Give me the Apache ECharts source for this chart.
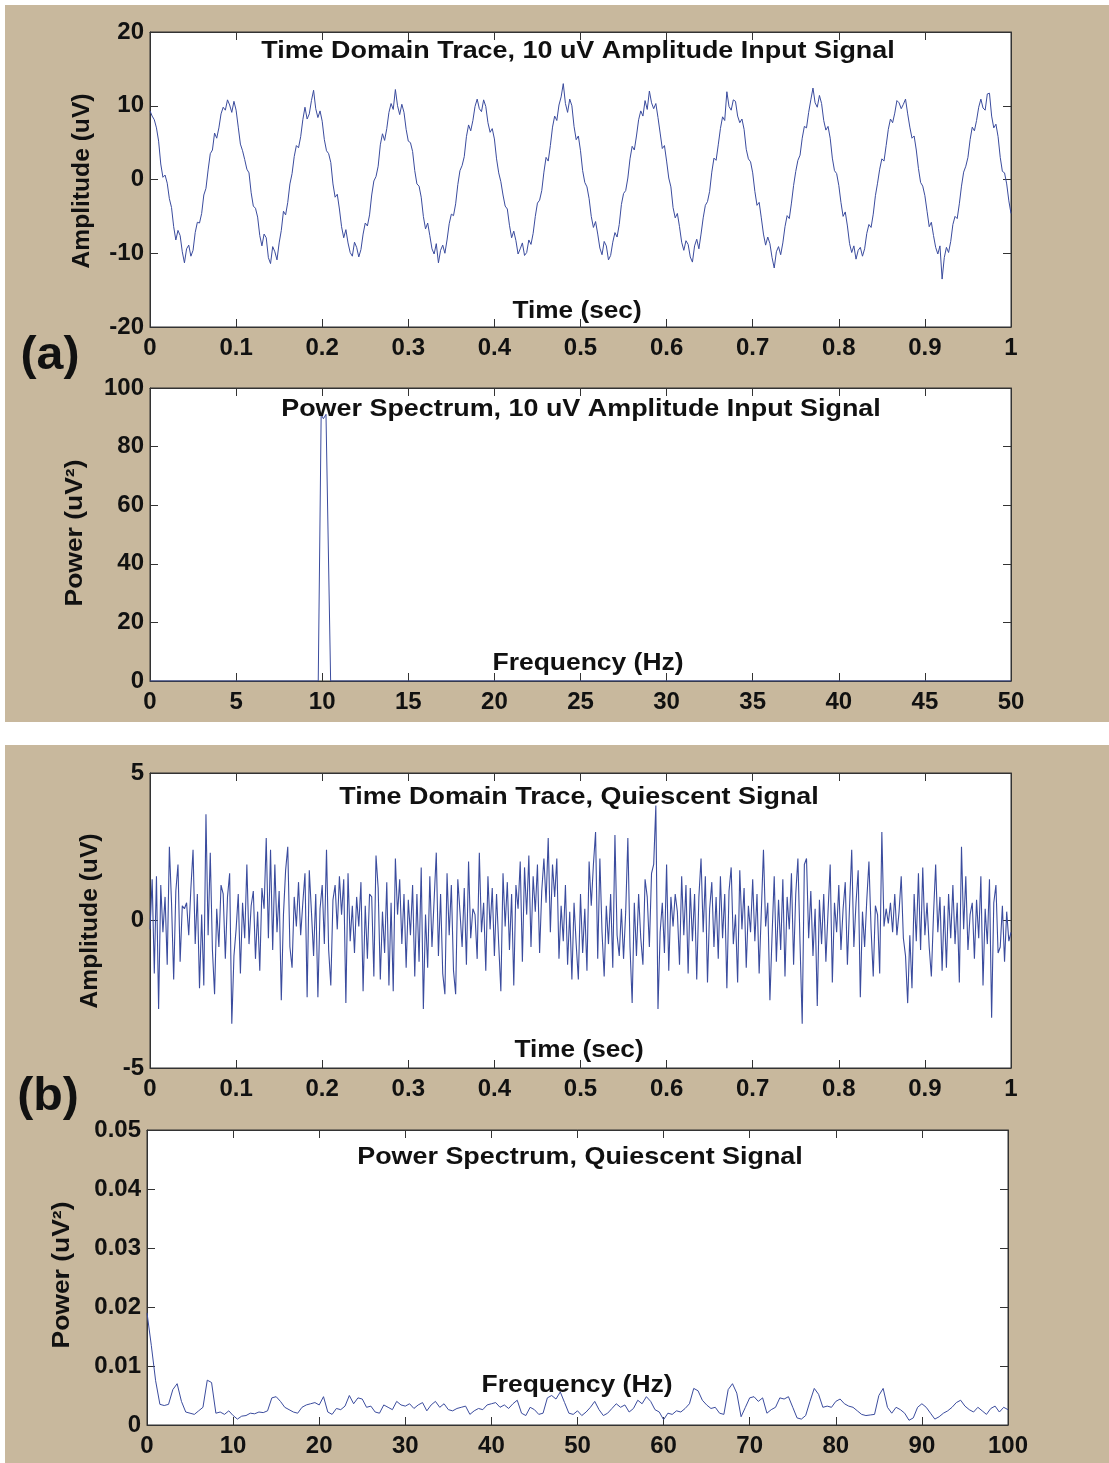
<!DOCTYPE html>
<html><head><meta charset="utf-8">
<script src="https://cdn.jsdelivr.net/npm/echarts@6/dist/echarts.min.js"></script>
<style>
html,body{margin:0;padding:0;background:#fff;}
#wrap{position:relative;width:1109px;height:1463px;overflow:hidden;}
.band{position:absolute;background:#c8b89d;}
#chart{position:absolute;left:0;top:0;width:1109px;height:1463px;}
</style></head><body>
<div id="wrap">
<div class="band" style="left:5px;top:5px;width:1104px;height:717px"></div>
<div class="band" style="left:5px;top:745px;width:1104px;height:718px"></div>
<div id="chart"></div>
</div>
<script>
// ---------- DATA ----------
// (a) time domain trace, 10 uV input, sampled every 0.0025 s from 0 to 1 s
const dtTraceA = 0.0025;
const traceA = [
 9.3, 8.6, 8.1, 7.0, 5.2, 2.1, 0.3, 0.6, -0.5, -2.6, -3.8, -6.4, -8.2, -6.9, -7.6, -9.8, -11.3, -9.4, -8.9, -10.4,
 -9.6, -7.2, -5.8, -5.9, -4.6, -2.1, -1.2, 1.3, 3.5, 4.0, 6.3, 5.6, 7.0, 8.9, 9.8, 9.4, 10.8, 10.1, 9.1, 10.6,
 9.4, 7.1, 4.8, 3.9, 2.7, 1.4, 0.9, -1.8, -3.6, -3.9, -5.1, -7.6, -9.0, -7.4, -7.9, -10.6, -11.4, -9.1, -9.8, -10.9,
 -8.6, -6.9, -4.3, -4.8, -3.1, -0.6, 0.8, 3.1, 4.6, 4.3, 5.8, 8.1, 9.8, 8.2, 8.9, 10.7, 12.1, 9.6, 8.4, 9.3,
 7.9, 5.4, 3.9, 3.5, 2.3, -0.6, -2.4, -2.0, -4.0, -6.4, -7.9, -6.8, -8.6, -9.9, -10.4, -8.5, -9.2, -10.5, -9.5, -7.4,
 -5.9, -6.3, -4.8, -2.1, -0.2, 0.4, 1.8, 4.7, 6.2, 5.3, 6.9, 9.1, 10.3, 9.5, 12.2, 10.0, 8.8, 10.2, 9.1, 6.8,
 5.2, 5.0, 3.8, 1.2, -0.6, -0.9, -2.4, -5.0, -6.7, -5.9, -7.6, -9.4, -10.1, -8.7, -11.3, -9.6, -8.9, -10.0, -8.2, -6.0,
 -4.7, -4.9, -3.3, -0.7, 1.2, 1.9, 3.1, 5.8, 7.4, 6.6, 8.0, 9.9, 10.9, 9.6, 9.2, 10.8, 9.9, 7.7, 6.4, 6.9,
 5.5, 2.8, 0.9, -0.3, -2.1, -3.6, -4.0, -6.2, -7.9, -7.0, -8.3, -10.1, -9.4, -8.6, -10.3, -9.9, -8.2, -8.8, -7.3, -5.0,
 -3.2, -2.8, -1.5, 1.0, 3.0, 2.5, 4.6, 7.1, 8.6, 8.0, 10.1, 11.2, 13.0, 10.3, 9.1, 10.9, 10.0, 7.2, 5.4, 5.9,
 3.9, 1.2, -0.4, -1.0, -2.6, -5.0, -6.5, -5.7, -7.4, -9.3, -10.2, -8.4, -9.0, -10.9, -10.3, -8.5, -7.2, -7.8, -6.1, -3.4,
 -1.9, -1.5, 0.2, 2.8, 4.5, 4.0, 5.9, 8.1, 9.3, 8.6, 10.7, 9.5, 12.0, 10.4, 9.6, 10.3, 8.4, 6.3, 4.2, 4.6,
 2.5, 0.2, -1.0, -3.8, -5.2, -4.6, -6.4, -8.5, -9.6, -8.3, -8.8, -10.5, -11.2, -9.0, -8.1, -9.4, -7.4, -5.2, -3.5, -3.0,
 -1.6, 1.0, 2.9, 2.6, 4.7, 6.9, 8.5, 8.0, 11.9, 9.9, 9.4, 10.8, 10.6, 8.6, 7.7, 8.2, 6.8, 4.1, 2.8, 2.4,
 0.9, -1.6, -3.5, -3.1, -5.2, -7.4, -8.9, -7.8, -8.7, -10.6, -12.0, -9.8, -9.1, -10.2, -8.6, -6.4, -4.9, -5.3, -3.2, -0.8,
 1.1, 2.6, 3.3, 5.6, 7.2, 7.0, 9.1, 10.8, 12.4, 10.4, 9.8, 11.4, 10.3, 8.0, 6.7, 7.2, 5.6, 2.9, 1.2, 0.8,
 -0.8, -3.1, -5.0, -4.4, -6.3, -8.7, -9.9, -9.0, -10.8, -9.6, -9.2, -10.4, -9.4, -7.3, -6.1, -6.5, -4.7, -2.2, -0.5, 1.4,
 2.8, 2.5, 4.6, 6.8, 8.2, 7.7, 9.0, 10.7, 10.4, 9.6, 10.2, 10.9, 8.9, 7.1, 5.6, 5.9, 4.0, 1.5, -0.4, -0.9,
 -2.2, -4.3, -6.4, -5.8, -7.6, -9.2, -10.1, -9.0, -13.5, -10.6, -9.2, -9.9, -8.4, -6.1, -5.0, -5.3, -3.3, -0.9, 1.0, 1.8,
 3.0, 5.4, 7.1, 6.6, 8.0, 9.8, 10.9, 9.7, 9.4, 11.6, 11.7, 8.6, 7.0, 7.5, 5.8, 3.0, 1.1, 0.9, -0.6, -2.9,
 -4.6
];
// (a) power spectrum, 10 uV input
const specAFreq = [0, 9.77, 9.94, 10.07, 10.22, 10.49, 50];
const specAPow  = [0, 0, 91, 89.5, 91, 0, 0];
// (b) time domain trace, quiescent, sampled every 0.0025 s from 0 to 1 s
const dtTraceB = 0.0025;
const traceB = [
 -0.3, 1.4, -1.8, 1.5, -3.0, 1.2, -0.4, 0.8, -1.5, 2.5, 0.6, -2.0, 1.0, 1.9, -1.4, 0.5, 0.4, 0.6, -0.5, 1.1,
 2.4, -0.8, 0.9, -2.3, 0.2, -2.2, 3.6, -0.5, 2.3, -1.0, -2.5, 0.4, -0.9, 1.2, 0.9, -1.3, 0.8, 1.6, -3.5, -1.2,
 -0.3, 0.9, -1.8, 0.6, -0.6, 1.9, -0.8, 0.5, 1.0, -1.3, 0.3, -1.7, 1.1, 0.4, 2.8, -0.6, 2.4, -1.0, 1.9, -0.4,
 1.0, -2.7, 0.2, 1.7, 2.5, -0.9, -1.6, 0.8, -0.2, 1.3, -0.5, 0.6, 1.6, -2.6, 1.7, 0.3, -1.2, 0.9, -2.6, 0.4,
 1.2, -0.8, 2.4, -1.0, -2.2, 0.7, 1.2, -0.3, 1.5, 0.2, 1.4, -2.8, 1.6, -0.7, 0.5, -1.1, 0.8, -0.2, 1.3, -2.4,
 0.5, -1.3, 0.9, 0.8, -1.9, 2.2, 1.1, -2.0, 0.3, -1.1, 1.3, -2.2, 0.6, -2.4, 2.1, 0.2, 1.4, -0.8, 0.9, -1.6,
 0.7, -0.5, 1.2, -1.9, 0.9, -1.4, 1.8, -3.0, 0.2, -1.6, 1.5, -0.9, 0.7, 2.3, -1.2, 0.9, -1.8, -2.5, 1.6, -0.5,
 1.2, -1.7, -2.5, 1.4, 0.3, -0.9, 1.1, -1.5, 2.0, -0.6, 0.4, 0.2, -1.3, 2.3, -0.4, 0.6, -1.7, 1.5, -0.3, 1.1,
 -1.2, 0.9, -0.8, -2.4, 1.6, -0.2, 1.3, -1.0, 0.9, -2.2, 1.2, 0.4, 2.0, -1.4, 1.8, 0.2, 2.2, -0.9, 1.5, 0.3,
 1.9, -1.1, 1.0, 2.1, 0.6, 2.8, -0.4, 1.9, 0.8, 2.1, -1.3, 0.5, -0.7, 1.2, -1.5, 0.3, -2.0, 0.6, -0.8, -2.0,
 0.9, -1.1, 0.4, -1.7, 2.0, 0.5, 1.9, 3.0, -1.3, 2.1, -0.4, -1.9, 0.5, -0.8, 0.9, -1.6, 2.9, -0.5, -1.2, 0.4,
 -1.3, 0.3, 2.8, -0.9, -2.8, 0.6, -1.2, 0.9, -0.6, -1.5, 1.4, 0.8, -0.9, 1.6, 1.9, 3.9, -3.0, -0.4, 0.6, -1.1,
 1.9, -1.7, 0.8, -0.2, 0.9, 0.3, -1.5, 1.5, -0.5, 1.2, -1.8, 1.1, -0.7, 0.9, -2.0, 0.8, 2.1, -0.4, 1.5, -2.1,
 0.4, 1.3, -0.9, 0.8, -1.3, 1.5, -0.6, 0.9, -2.3, 1.0, 1.8, -0.8, 0.2, -2.1, 1.7, -0.3, 1.1, -1.6, 0.5, -0.4,
 1.4, -0.7, 0.9, -1.8, 0.3, 2.4, -0.2, 0.6, -2.7, -0.5, 1.5, -1.4, 0.7, -1.0, 1.4, -1.9, 0.8, -0.3, 1.6, -1.5,
 0.9, 2.1, -0.8, -3.5, 1.9, 2.1, -0.6, 1.0, -1.2, 0.4, -2.9, 0.7, -0.8, 0.9, -1.4, 0.3, 1.9, -2.1, 0.6, -0.4,
 1.2, -1.0, 0.4, 1.3, -1.5, 0.5, 2.4, -0.9, 0.6, 1.7, -2.6, 0.3, -0.9, 0.7, 2.0, -0.3, -1.9, 0.5, 0.2, -1.8,
 3.0, -0.2, 0.4, -0.1, 0.6, -0.4, 0.9, -0.5, 0.3, 1.5, -0.6, -1.2, -2.8, -0.5, -2.3, 0.9, -0.7, 1.6, -1.0, 1.8,
 -0.5, 0.6, -0.9, -1.9, 0.2, 1.9, -0.4, 0.8, -1.7, 0.5, -1.6, 0.9, -0.6, 1.2, -0.8, 0.6, -2.1, 2.5, -0.3, 1.5,
 -1.0, 0.2, 0.6, -1.3, 0.7, -0.6, 1.5, -2.2, 0.4, -0.8, 1.4, -3.3, 0.6, 1.2, -1.1, -0.9, 0.5, -1.4, 0.3, -0.7,
 -0.4
];
// (b) power spectrum, quiescent, every 0.5 Hz from 0 to 100 Hz
const dfSpecB = 0.5;
const specBPow = [
 .0190, .0135, .0075, .0035, .0033, .0035, .0060, .0070, .0040, .0022,
 .0020, .0018, .0024, .0030, .0076, .0072, .0020, .0022, .0018, .0024,
 .0016, .0010, .0015, .0016, .0020, .0019, .0022, .0021, .0024, .0046,
 .0048, .0040, .0030, .0026, .0022, .0020, .0030, .0034, .0036, .0038,
 .0034, .0048, .0022, .0018, .0028, .0026, .0032, .0050, .0036, .0046,
 .0044, .0030, .0032, .0022, .0020, .0034, .0030, .0026, .0040, .0034,
 .0032, .0036, .0028, .0034, .0038, .0024, .0034, .0040, .0030, .0036,
 .0026, .0024, .0028, .0030, .0032, .0018, .0024, .0028, .0026, .0034,
 .0036, .0038, .0030, .0034, .0028, .0036, .0042, .0020, .0016, .0030,
 .0026, .0018, .0020, .0046, .0050, .0044, .0056, .0038, .0020, .0018,
 .0024, .0016, .0022, .0030, .0040, .0026, .0016, .0020, .0028, .0036,
 .0030, .0034, .0022, .0028, .0042, .0036, .0048, .0040, .0026, .0022,
 .0009, .0020, .0018, .0024, .0022, .0028, .0036, .0062, .0058, .0042,
 .0034, .0028, .0030, .0020, .0018, .0060, .0070, .0054, .0014, .0030,
 .0046, .0048, .0040, .0046, .0020, .0026, .0030, .0046, .0044, .0048,
 .0030, .0012, .0010, .0016, .0040, .0062, .0052, .0030, .0032, .0030,
 .0040, .0044, .0036, .0032, .0030, .0024, .0018, .0016, .0017, .0018,
 .0050, .0062, .0030, .0020, .0030, .0026, .0020, .0008, .0012, .0030,
 .0036, .0030, .0020, .0010, .0014, .0020, .0024, .0030, .0038, .0042,
 .0032, .0026, .0022, .0030, .0024, .0018, .0028, .0032, .0022, .0030,
 .0026
];
// tick settings
const ticksA1 = {min: 0, max: 1, interval: 0.1, ymin: -20, ymax: 20, yint: 10};
const ticksA2 = {min: 0, max: 50, interval: 5, ymin: 0, ymax: 100, yint: 20};
const ticksB1 = {min: 0, max: 1, interval: 0.1, ymin: -5, ymax: 5, yint: 5};
const ticksB2 = {min: 0, max: 100, interval: 10, ymin: 0, ymax: 0.05, yint: 0.01};

// ---------- BUILD ----------
const FONT = "'Liberation Sans', Arial, Helvetica, sans-serif";
const TXT = '#111';
const LINE = '#3b4c9e';
const grids = [
  {left: 150, top: 32, width: 861, height: 295},
  {left: 150, top: 388, width: 861, height: 293},
  {left: 150, top: 773, width: 861, height: 295},
  {left: 147, top: 1130, width: 861, height: 295}
].map(g => Object.assign({show: true, backgroundColor: '#fff', borderColor: '#333', borderWidth: 1}, g));

const tickSets = [ticksA1, ticksA2, ticksB1, ticksB2];
const xAxes = [], yAxes = [];
const xFmt = [v => String(+v.toFixed(1)), v => String(v), v => String(+v.toFixed(1)), v => String(v)];
const yFmt = [v => String(v), v => String(v), v => String(v), v => v === 0 ? '0' : v.toFixed(2)];
tickSets.forEach((t, i) => {
  const base = {gridIndex: i, type: 'value', splitLine: {show: false},
    axisLine: {show: true, onZero: false, lineStyle: {color: '#333', width: 1}},
    axisTick: {show: true, inside: true, length: 8, lineStyle: {color: '#333'}}};
  xAxes.push(Object.assign({}, base, {position: 'bottom', min: t.min, max: t.max, interval: t.interval,
    axisLabel: {fontSize: 24, fontWeight: 'bold', color: TXT, fontFamily: FONT, margin: 9, formatter: xFmt[i],
      showMinLabel: true, showMaxLabel: true}}));
  xAxes.push(Object.assign({}, base, {position: 'top', min: t.min, max: t.max, interval: t.interval,
    axisLabel: {show: false}}));
  yAxes.push(Object.assign({}, base, {position: 'left', min: t.ymin, max: t.ymax, interval: t.yint,
    axisLabel: {fontSize: 24, fontWeight: 'bold', color: TXT, fontFamily: FONT, margin: 6, formatter: yFmt[i],
      showMinLabel: true, showMaxLabel: true}}));
  yAxes.push(Object.assign({}, base, {position: 'right', min: t.ymin, max: t.ymax, interval: t.yint,
    axisLabel: {show: false}}));
});

const seriesData = [
  traceA.map((v, k) => [k * dtTraceA, v]),
  specAFreq.map((f, k) => [f, specAPow[k]]),
  traceB.map((v, k) => [k * dtTraceB, v]),
  specBPow.map((v, k) => [k * dfSpecB, v])
];
const widths = [1, 1, 1.1, 1];
const series = seriesData.map((d, i) => ({
  type: 'line', xAxisIndex: 2 * i, yAxisIndex: 2 * i, data: d, showSymbol: false, symbol: 'none',
  lineStyle: {color: LINE, width: widths[i]}, z: 3, animation: false
}));

function txt(x, y, s, size, sx, rot) {
  return {type: 'text', x: x, y: y, rotation: rot || 0, scaleX: sx || 1, z: 10,
    style: {text: s, fill: TXT, font: 'bold ' + size + 'px ' + FONT, textAlign: 'center', textVerticalAlign: 'middle'}};
}
const R = Math.PI / 2;
const graphic = [
  txt(578, 52, 'Time Domain Trace, 10 uV Amplitude Input Signal', 23, 1.17),
  txt(577, 312, 'Time (sec)', 23, 1.14),
  txt(83, 181, 'Amplitude (uV)', 23, 1.07, R),
  txt(581, 410, 'Power Spectrum, 10 uV Amplitude Input Signal', 23, 1.17),
  txt(588, 664, 'Frequency (Hz)', 23, 1.15),
  txt(76, 533, 'Power (uV²)', 23, 1.15, R),
  txt(579, 798, 'Time Domain Trace, Quiescent Signal', 23, 1.17),
  txt(579, 1051, 'Time (sec)', 23, 1.14),
  txt(91, 921, 'Amplitude (uV)', 23, 1.07, R),
  txt(580, 1158, 'Power Spectrum, Quiescent Signal', 23, 1.17),
  txt(577, 1386, 'Frequency (Hz)', 23, 1.15),
  txt(63, 1275, 'Power (uV²)', 23, 1.15, R),
  txt(50, 356, '(a)', 46, 1.05),
  txt(48, 1097, '(b)', 46, 1.05)
];

const chart = echarts.init(document.getElementById('chart'), null, {renderer: 'canvas'});
chart.setOption({
  animation: false,
  backgroundColor: 'transparent',
  grid: grids,
  xAxis: xAxes,
  yAxis: yAxes,
  series: series,
  graphic: graphic
});
</script>
</body></html>
